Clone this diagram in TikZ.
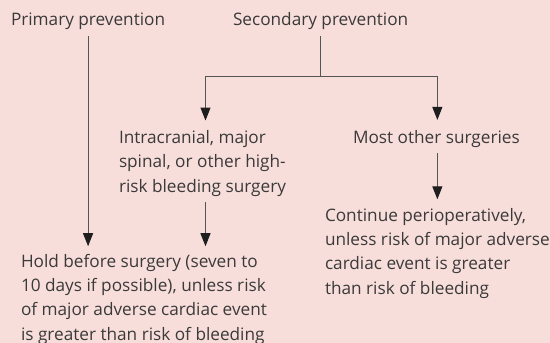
\documentclass[tikz,border=0pt]{standalone}
\usepackage{fontspec}
\setmainfont{Open Sans}
\usetikzlibrary{arrows.meta}
\definecolor{bgpink}{HTML}{F8DEDA}
\definecolor{txt}{HTML}{3A3A3A}
\definecolor{ln}{HTML}{555555}
\definecolor{tip}{HTML}{1E1E1E}
\tikzset{
  lbl/.style={font=\fontsize{17.2}{24.2}\selectfont, text=txt, align=left, inner xsep=0pt, inner ysep=0pt, outer sep=0pt, anchor=base west},
  conn/.style={draw=ln, line width=1pt},
  arr/.style={conn, -{Triangle[length=13pt,width=10pt,color=tip,fill=tip]}},
}
\begin{document}
\begin{tikzpicture}[x=1pt,y=-1pt]
\fill[bgpink] (0,0) rectangle (550,343);
\useasboundingbox (0,0) rectangle (550,343);
% base anchor of a multi-line node is the baseline of its last line
\node[lbl] (primary) at (11,25) {Primary prevention};
\node[lbl] (secondary) at (233,25) {Secondary prevention};
\node[lbl] (intra) at (119,192) {Intracranial, major\\spinal, or other high-\\risk bleeding surgery};
\node[lbl] (most) at (353,143) {Most other surgeries};
\node[lbl] (hold) at (21,340) {Hold before surgery (seven to\\10 days if possible), unless risk\\of major adverse cardiac event\\is greater than risk of bleeding};
\node[lbl] (cont) at (325,294) {Continue perioperatively,\\unless risk of major adverse\\cardiac event is greater\\than risk of bleeding};
\coordinate (split) at (secondary.south |- 0,76);
\draw[conn] ([yshift=-7pt]secondary.south) -- (split);
\draw[arr] (split) -| ([xshift=3pt,yshift=10pt]intra.north);
\draw[arr] (split) -| ([xshift=1pt,yshift=10pt]most.north);
\draw[arr] ([yshift=-7pt]primary.south) -- ([yshift=8pt]primary.south |- hold.north);
\draw[arr] ([xshift=3pt,yshift=-6pt]intra.south) -- ([xshift=3pt,yshift=8pt]intra.south |- hold.north);
\draw[arr] ([xshift=1pt,yshift=-6pt]most.south) -- ([xshift=1pt,yshift=9pt]most.south |- cont.north);
\end{tikzpicture}
\end{document}
